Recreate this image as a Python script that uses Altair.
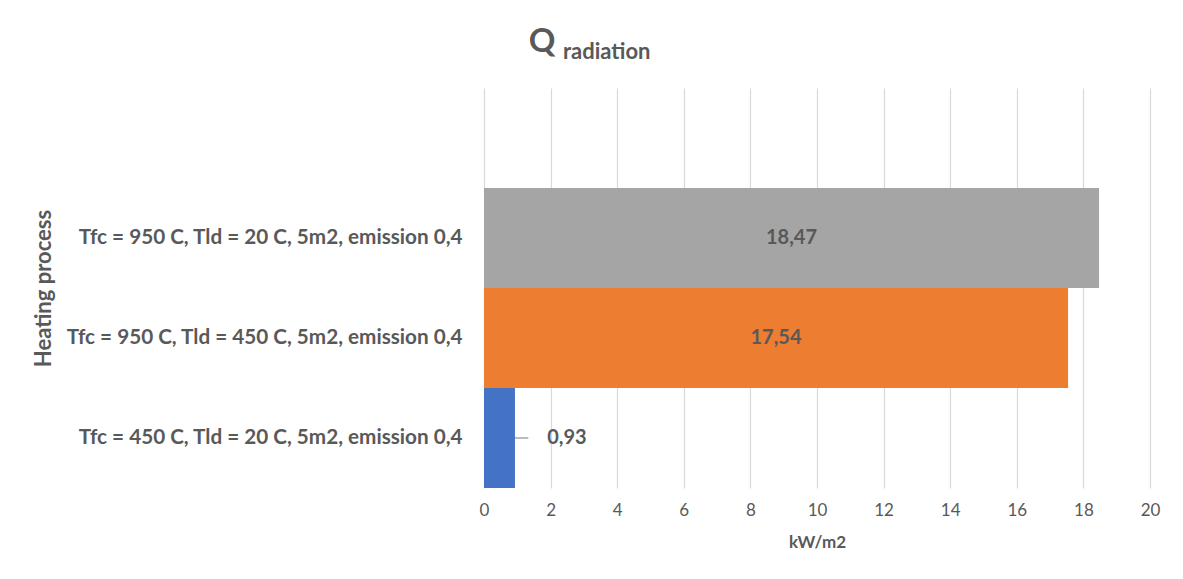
import altair as alt
import pandas as pd

# ------------------------------------------------------------------ data
PROCESSES = [
    "Tfc = 950 C, Tld = 20 C, 5m2, emission 0,4",
    "Tfc = 950 C, Tld = 450 C, 5m2, emission 0,4",
    "Tfc = 450 C, Tld = 20 C, 5m2, emission 0,4",
]
Q_RADIATION = [18.47, 17.54, 0.93]
BAR_COLORS = ["#a5a5a5", "#ed7d31", "#4472c4"]
X_TICKS = list(range(0, 21, 2))

INK = "#595959"
GRID = "#d9d9d9"
FONT = "Lato"

df = pd.DataFrame({"process": PROCESSES, "q": Q_RADIATION})

y_enc = alt.Y(
    "process:N",
    sort=PROCESSES,
    scale=alt.Scale(paddingInner=0, paddingOuter=0.5, align=1),
    axis=alt.Axis(
        title="Heating process", titleFontSize=22, titleFontWeight="bold",
        titleColor=INK, titleX=-441, titleY=200, titleBaseline="middle",
        titleAngle=270, labelFontSize=20.7, labelFontWeight="bold",
        labelColor=INK, labelPadding=22, labelLimit=600, ticks=False,
        domain=False, grid=False,
    ),
)
x_scale = alt.Scale(domain=[0, 20], nice=False)

base = alt.Chart(df)

bars = base.mark_bar(size=100).encode(
    x=alt.X("q:Q", scale=x_scale, axis=alt.Axis(
        values=X_TICKS, title="kW/m2", titleFontSize=17, titleFontWeight="bold",
        titleColor=INK, titleY=54, titleBaseline="middle", labelFontSize=17,
        labelColor=INK, labelPadding=14, labelFlush=False, ticks=False,
        domain=False, gridColor=GRID, gridWidth=1.2)),
    y=y_enc,
    color=alt.Color("process:N", scale=alt.Scale(domain=PROCESSES, range=BAR_COLORS),
                    legend=None),
)

# small values get their label outside the bar, joined by a short leader line
labels = base.transform_calculate(
    label="replace(format(datum.q, '.2f'), '.', ',')",
    lx="datum.q > 5 ? datum.q / 2 : datum.q + 1.56",
).mark_text(font=FONT, fontSize=20, fontWeight="bold", color=INK).encode(
    x=alt.X("lx:Q", scale=x_scale),
    y=alt.Y("process:N", sort=PROCESSES),
    text="label:N",
)

leader = base.transform_filter("datum.q <= 5").transform_calculate(
    q2="datum.q + 0.4"
).mark_rule(color="#a5a5a5", strokeWidth=1.5).encode(
    x=alt.X("q:Q", scale=x_scale),
    x2="q2:Q",
    y=alt.Y("process:N", sort=PROCESSES),
)

title_q = alt.Chart(alt.Data(values=[{"t": "Q"}])).mark_text(
    font=FONT, fontSize=33, fontWeight="bold", color=INK, align="center",
    baseline="alphabetic",
).encode(x=alt.value(58), y=alt.value(-36), text="t:N")

title_sub = alt.Chart(alt.Data(values=[{"t": "radiation"}])).mark_text(
    font=FONT, fontSize=22, fontWeight="bold", color=INK, align="left",
    baseline="alphabetic",
).encode(x=alt.value(79), y=alt.value(-29), text="t:N")

chart = (bars + leader + labels + title_q + title_sub).properties(
    width=666, height=400,
    autosize=alt.AutoSizeParams(type="none"),
    padding={"left": 476, "top": 80, "right": 25, "bottom": 80},
    background="white",
).configure_view(strokeOpacity=0).configure_axis(
    labelFont=FONT, titleFont=FONT
)

chart.save("out.html", embed_options={"renderer": "svg", "actions": False})
